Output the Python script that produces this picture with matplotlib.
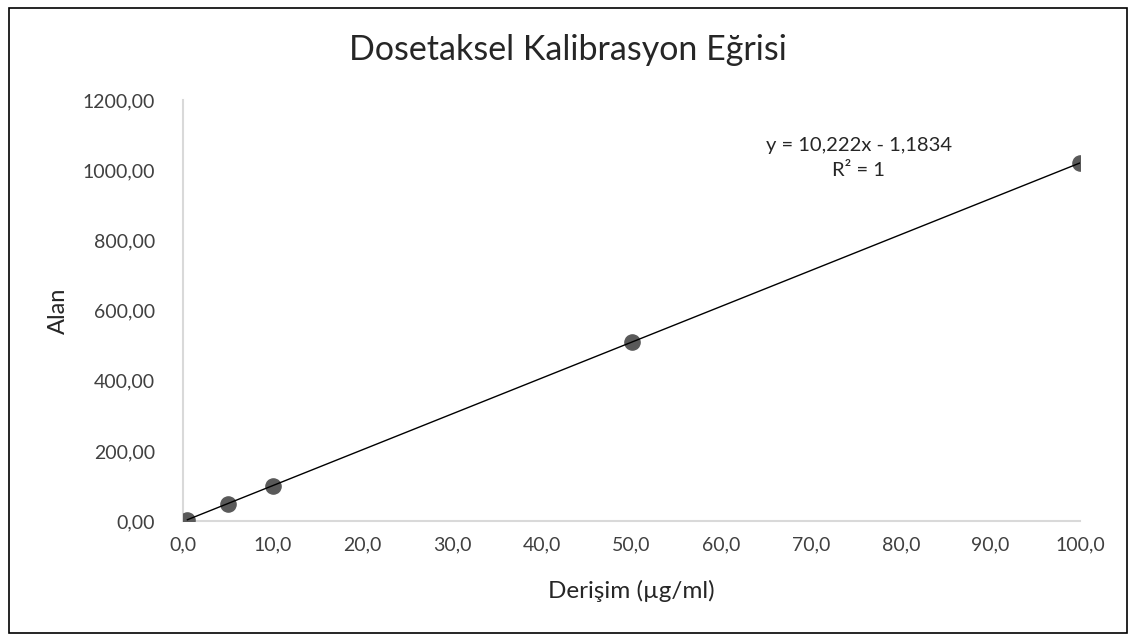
import numpy as np
import matplotlib
matplotlib.use("Agg")
import matplotlib.pyplot as plt
from matplotlib.patches import Rectangle

plt.rcParams['font.family'] = ['Lato', 'DejaVu Sans']

concentration = [0.5, 5.0, 10.0, 50.0, 100.0]
area = [4.0, 50.0, 101.0, 510.0, 1021.0]
x_ticks = np.arange(0, 101, 10)
y_ticks = np.arange(0, 1201, 200)

fig = plt.figure(figsize=(11.36, 6.41), dpi=100)
ax = fig.add_axes([0.161, 0.187, 0.79, 0.657])

ax.scatter(concentration, area, s=120, color='#595959', zorder=3)
slope, intercept = np.polyfit(concentration, area, 1)
xs = np.array([min(concentration), max(concentration)])
ax.plot(xs, slope * xs + intercept, color='black', lw=1.0, zorder=4)

ax.set_xlim(0, 100)
ax.set_ylim(0, 1200)
ax.set_xticks(x_ticks)
ax.set_yticks(y_ticks)
ax.set_xticklabels([f"{v:.1f}".replace('.', ',') for v in x_ticks])
ax.set_yticklabels([f"{v:.2f}".replace('.', ',') for v in y_ticks])
ax.tick_params(length=0, labelsize=14, colors='#404040')
ax.tick_params(axis='y', pad=20)
ax.tick_params(axis='x', pad=11)
for s in ['top', 'right']:
    ax.spines[s].set_visible(False)
for s in ['left', 'bottom']:
    ax.spines[s].set_color('#d9d9d9')
    ax.spines[s].set_linewidth(1.5)

ax.set_xlabel('Derişim (µg/ml)', fontsize=17.5, color='#262626', labelpad=19)
ax.set_ylabel('Alan', fontsize=17, color='#262626', labelpad=10)
fig.text(0.5, 0.922, 'Dosetaksel Kalibrasyon Eğrisi', ha='center', va='center',
         fontsize=24.5, color='#262626')

ax.text(75.3, 1035, 'y = 10,222x - 1,1834\nR² = 1', ha='center', va='center',
        fontsize=14.5, color='#262626', linespacing=1.6)

fig.patches.append(Rectangle((0.008, 0.012), 0.984, 0.975, transform=fig.transFigure,
                             fill=False, edgecolor='black', lw=1.2))

fig.savefig('out.png', dpi=100)
